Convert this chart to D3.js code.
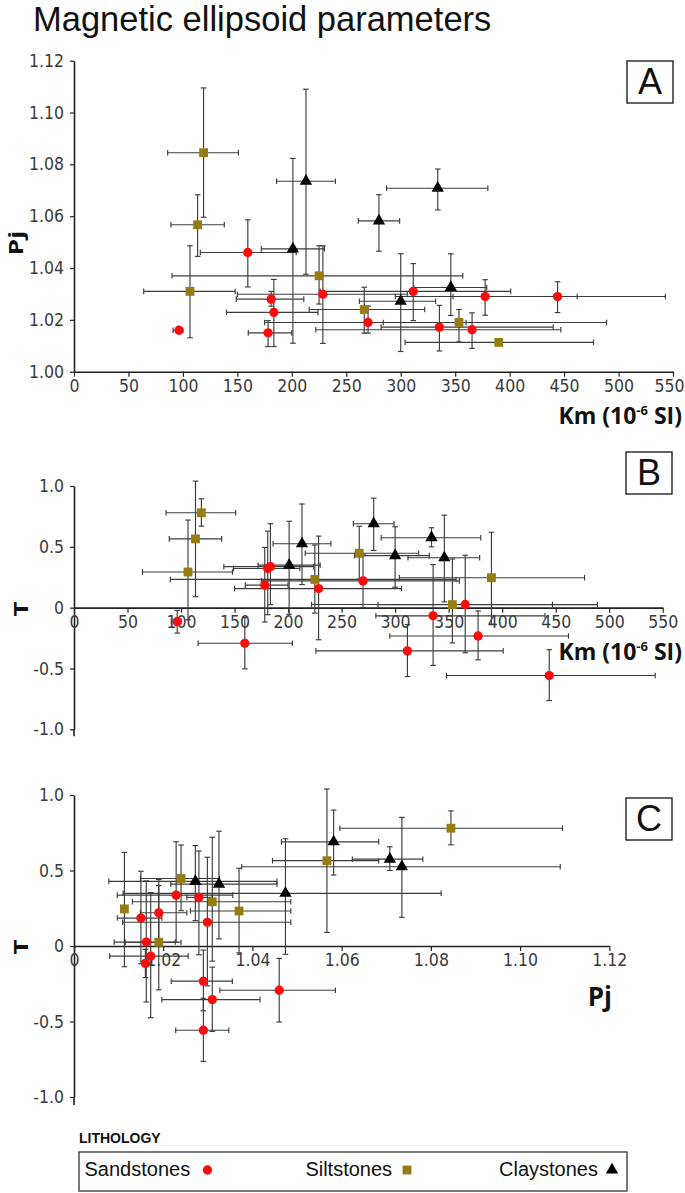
<!DOCTYPE html>
<html><head><meta charset="utf-8">
<script src="https://cdn.jsdelivr.net/npm/d3@7"></script>
<style>
html,body{margin:0;padding:0;background:#fff;}
svg{display:block;}
</style></head><body>
<svg id="chart" width="685" height="1193"></svg>
<script>
// ---------------- DATA ----------------
const lithologies = ["Sandstones", "Siltstones", "Claystones"];

// Sandstones
const sandKm    = [96.4, 159.6, 178.2, 181, 183.5, 228.5, 270, 311.5, 335.5, 365.5, 377.5, 444];
const sandKmLo  = [91, 116, 160, 149, 140, 150, 175, 226, 282, 222, 295, 348];
const sandKmHi  = [100, 204, 200, 211, 224, 306, 360, 401, 440, 447, 462, 543];
const sandPj    = [1.016, 1.046, 1.015, 1.028, 1.0229, 1.0299, 1.019, 1.031, 1.0172, 1.0162, 1.029, 1.029];
const sandPjLo  = [1.0157, 1.0327, 1.0097, 1.0253, 1.0097, 1.0109, 1.0149, 1.0197, 1.008, 1.009, 1.0218, 1.0228];
const sandPjHi  = [1.0163, 1.0586, 1.0197, 1.031, 1.0356, 1.0486, 1.0253, 1.0417, 1.0256, 1.0227, 1.0355, 1.0347];
const sandT     = [-0.115, -0.293, 0.185, 0.322, 0.337, 0.157, 0.22, -0.355, -0.067, 0.026, -0.233, -0.558];
const sandTLo   = [-0.209, -0.503, -0.118, -0.058, 0.025, -0.264, 0.0, -0.566, -0.475, -0.371, -0.429, -0.764];
const sandTHi   = [-0.022, -0.082, 0.495, 0.629, 0.69, 0.588, 0.44, -0.14, 0.354, 0.431, -0.027, -0.346];

// Siltstones
const siltKm    = [119, 113.5, 106.5, 225, 266.5, 353.5, 390];
const siltKmLo  = [86, 89, 64, 90, 216, 284, 304];
const siltKmHi  = [151, 138, 148, 357, 322, 489, 477];
const siltPj    = [1.0845, 1.0567, 1.031, 1.037, 1.024, 1.019, 1.0113];
const siltPjLo  = [1.0596, 1.0445, 1.0131, 1.0261, 1.0149, 1.0115, 1.0108];
const siltPjHi  = [1.1095, 1.0683, 1.0486, 1.0486, 1.0326, 1.024, 1.0118];
const siltT     = [0.78, 0.565, 0.293, 0.232, 0.447, 0.025, 0.246];
const siltTLo   = [0.67, 0.09, -0.1, -0.045, 0.234, -0.29, -0.137];
const siltTHi   = [0.895, 1.04, 0.72, 0.515, 0.669, 0.40, 0.62];

// Claystones
const clayKm    = [201, 213, 280, 300, 334, 346];
const clayKmLo  = [172, 186, 261, 262, 287, 312];
const clayKmHi  = [230, 240, 299, 332, 380, 379];
const clayPj    = [1.0474, 1.0735, 1.0582, 1.0272, 1.0708, 1.0325];
const clayPjLo  = [1.011, 1.0376, 1.0465, 1.0078, 1.0624, 1.0217];
const clayPjHi  = [1.0823, 1.109, 1.0683, 1.0455, 1.0782, 1.0455];
const clayT     = [0.349, 0.525, 0.69, 0.428, 0.575, 0.41];
const clayTLo   = [-0.055, 0.19, 0.47, 0.168, 0.5, 0.047];
const clayTHi   = [0.71, 0.852, 0.9, 0.665, 0.657, 0.76];

// Axis ticks / labels
const kmTicks = [0, 50, 100, 150, 200, 250, 300, 350, 400, 450, 500, 550];
const pjTicks = [1.00, 1.02, 1.04, 1.06, 1.08, 1.10, 1.12];
const pjTickLabelsA = ["1.00", "1.02", "1.04", "1.06", "1.08", "1.10", "1.12"];
const pjTickLabelsC = ["0", "1.02", "1.04", "1.06", "1.08", "1.10", "1.12"];
const tTicks = [-1, -0.5, 0, 0.5, 1];
const tTickLabels = ["-1.0", "-0.5", "0", "0.5", "1.0"];
const panelLetters = ["A", "B", "C"];
const titleText = "Magnetic ellipsoid parameters";

// ---------------- BUILD ----------------
function build(type, km, kmLo, kmHi, pj, pjLo, pjHi, t, tLo, tHi) {
  return km.map((v, i) => ({type, km: v, kmLo: kmLo[i], kmHi: kmHi[i],
    pj: pj[i], pjLo: pjLo[i], pjHi: pjHi[i], t: t[i], tLo: tLo[i], tHi: tHi[i]}));
}
const samples = [
  ...build(lithologies[1], siltKm, siltKmLo, siltKmHi, siltPj, siltPjLo, siltPjHi, siltT, siltTLo, siltTHi),
  ...build(lithologies[2], clayKm, clayKmLo, clayKmHi, clayPj, clayPjLo, clayPjHi, clayT, clayTLo, clayTHi),
  ...build(lithologies[0], sandKm, sandKmLo, sandKmHi, sandPj, sandPjLo, sandPjHi, sandT, sandTLo, sandTHi)
];

const color = d3.scaleOrdinal(lithologies, ["#ff0a0a", "#977c12", "#000000"]);
const symbolType = d3.scaleOrdinal(lithologies, [d3.symbolCircle, d3.symbolSquare, d3.symbolTriangle]);
const symbolSize = d3.scaleOrdinal(lithologies, [68, 78, 66]);
const sym = d3.symbol().type(d => symbolType(d)).size(d => symbolSize(d));

const svg = d3.select("#chart");
const TICKFONT = "'Liberation Sans Narrow','DejaVu Sans Condensed','Open Sans',sans-serif";
const BOLDFONT = "'Open Sans','Noto Sans',sans-serif";
const ERR = "#3c3c3c";

svg.append("text").attr("x", 33).attr("y", 31)
  .attr("font-family", "'Liberation Sans',Arial,sans-serif").attr("font-size", 34.5)
  .attr("fill", "#111").text(titleText);

const panels = [
  {letter: panelLetters[0], xk: "km", yk: "pj",
   x: d3.scaleLinear([0, 550], [74, 673]), y: d3.scaleLinear([1.00, 1.12], [371.7, 60.7]),
   xTicks: kmTicks, xLabels: kmTicks.map(String), yTicks: pjTicks, yLabels: pjTickLabelsA,
   xAxisAt: 1.00, yExt: 0, box: [627, 61], ylab: "Pj", ylabPos: [15, 243],
   xlab: "km", xlabPos: [682, 424]},
  {letter: panelLetters[1], xk: "km", yk: "t",
   x: d3.scaleLinear([0, 550], [74, 662.7]), y: d3.scaleLinear([-1, 1], [729.3, 486]),
   xTicks: kmTicks, xLabels: kmTicks.map(String), yTicks: tTicks, yLabels: tTickLabels,
   xAxisAt: 0, yExt: 7, box: [626, 452], ylab: "T", ylabPos: [20, 609],
   xlab: "km", xlabPos: [682, 660]},
  {letter: panelLetters[2], xk: "pj", yk: "t",
   x: d3.scaleLinear([1.00, 1.12], [74, 609.3]), y: d3.scaleLinear([-1, 1], [1097, 795]),
   xTicks: pjTicks, xLabels: pjTickLabelsC, yTicks: tTicks, yLabels: tTickLabels,
   xAxisAt: 0, yExt: 8, box: [626, 798], ylab: "T", ylabPos: [20, 947],
   xlab: "pj", xlabPos: [612, 1006]}
];

panels.forEach(p => {
  const g = svg.append("g");
  const x = p.x, y = p.y;
  const x0 = x.range()[0];

  // y axis
  const yAx = g.append("g").attr("transform", `translate(${x0},0)`)
    .call(d3.axisLeft(y).tickValues(p.yTicks).tickFormat((d, i) => p.yLabels[i])
      .tickSize(4).tickSizeOuter(0).tickPadding(6));
  if (p.yExt) {
    g.append("line").attr("x1", x0).attr("x2", x0)
      .attr("y1", y.range()[0]).attr("y2", y.range()[0] + p.yExt)
      .attr("stroke", "#222").attr("stroke-width", 1.6);
  }
  // x axis
  const xAx = g.append("g").attr("transform", `translate(0,${y(p.xAxisAt)})`)
    .call(d3.axisBottom(x).tickValues(p.xTicks).tickFormat((d, i) => p.xLabels[i])
      .tickSize(5).tickSizeOuter(0).tickPadding(3));
  [yAx, xAx].forEach(a => {
    a.select(".domain").attr("stroke", "#222").attr("stroke-width", 1.6);
    a.selectAll(".tick line").attr("stroke", "#222").attr("stroke-width", 1.2);
    a.selectAll(".tick text").attr("font-family", TICKFONT).attr("font-size", 17.5)
      .attr("fill", "#3a3a3a");
  });
  // keep the last x tick label inside the page edge
  xAx.selectAll(".tick text").filter((d, i, n) => i === n.length - 1 && x(d) > 665)
    .attr("text-anchor", "end").attr("dx", 11);

  // error bars
  const eb = g.append("g").attr("stroke", ERR).attr("stroke-width", 1.15).attr("fill", "none");
  const cap = 2.8;
  samples.forEach(d => {
    const cx = x(d[p.xk]), cy = y(d[p.yk]);
    const xl = x(d[p.xk + "Lo"]), xh = x(d[p.xk + "Hi"]);
    const yl = y(d[p.yk + "Lo"]), yh = y(d[p.yk + "Hi"]);
    if (Math.abs(xh - xl) > 1.5) {
      eb.append("line").attr("x1", xl).attr("x2", xh).attr("y1", cy).attr("y2", cy);
      eb.append("line").attr("x1", xl).attr("x2", xl).attr("y1", cy - cap).attr("y2", cy + cap);
      eb.append("line").attr("x1", xh).attr("x2", xh).attr("y1", cy - cap).attr("y2", cy + cap);
    }
    if (Math.abs(yh - yl) > 1.5) {
      eb.append("line").attr("x1", cx).attr("x2", cx).attr("y1", yl).attr("y2", yh);
      eb.append("line").attr("x1", cx - cap).attr("x2", cx + cap).attr("y1", yl).attr("y2", yl);
      eb.append("line").attr("x1", cx - cap).attr("x2", cx + cap).attr("y1", yh).attr("y2", yh);
    }
  });

  // markers
  g.append("g").selectAll("path").data(samples).join("path")
    .attr("transform", d => `translate(${x(d[p.xk])},${y(d[p.yk])})`)
    .attr("d", d => sym(d.type))
    .attr("fill", d => color(d.type));

  // panel letter box
  g.append("rect").attr("x", p.box[0]).attr("y", p.box[1]).attr("width", 46).attr("height", 42)
    .attr("fill", "#fff").attr("stroke", "#111").attr("stroke-width", 1.3);
  g.append("text").attr("x", p.box[0] + 23).attr("y", p.box[1] + 33)
    .attr("text-anchor", "middle").attr("font-family", "'Liberation Sans',Arial,sans-serif")
    .attr("font-size", 36).attr("fill", "#111").text(p.letter);

  // y label (slightly narrowed, as in the original figure)
  g.append("text")
    .attr("transform", `translate(${p.ylabPos[0]},${p.ylabPos[1]}) rotate(-90) scale(1,0.75)`)
    .attr("text-anchor", "middle").attr("dominant-baseline", "central")
    .attr("font-family", BOLDFONT).attr("font-weight", 700).attr("font-size", 26)
    .attr("fill", "#111").text(p.ylab);

  // x label
  const xl = g.append("text").attr("x", p.xlabPos[0]).attr("y", p.xlabPos[1])
    .attr("text-anchor", "end").attr("font-family", BOLDFONT).attr("font-weight", 700)
    .attr("fill", "#111");
  if (p.xlab === "km") {
    xl.attr("font-size", 23);
    xl.append("tspan").text("Km (10");
    xl.append("tspan").attr("font-size", 13).attr("dy", -9).text("-6");
    xl.append("tspan").attr("dy", 9).text(" SI)");
  } else {
    xl.attr("font-size", 26).text("Pj");
  }
});

// ---------------- LEGEND ----------------
const LFONT = "'Liberation Sans',Arial,sans-serif";
svg.append("text").attr("x", 79).attr("y", 1143).attr("font-family", LFONT)
  .attr("font-weight", 700).attr("font-size", 14).attr("fill", "#111").text("LITHOLOGY");
svg.append("rect").attr("x", 79).attr("y", 1152).attr("width", 548).attr("height", 39)
  .attr("fill", "none").attr("stroke", "#333").attr("stroke-width", 1.3);
const legendTextX = [84.5, 305.4, 499];
const legendSymX = [207.4, 407, 612];
lithologies.forEach((l, i) => {
  svg.append("text").attr("x", legendTextX[i]).attr("y", 1176).attr("font-family", LFONT)
    .attr("font-size", 20).attr("fill", "#111").text(l);
  svg.append("path").attr("transform", `translate(${legendSymX[i]},1170)`)
    .attr("d", sym(l)).attr("fill", color(l));
});
</script>
</body></html>
